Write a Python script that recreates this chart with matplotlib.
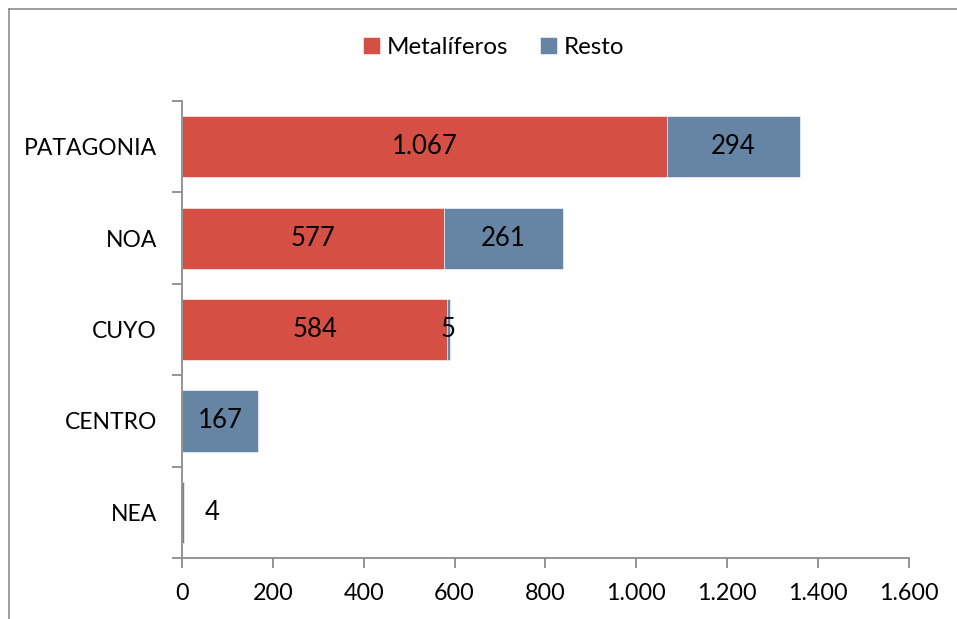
import matplotlib
matplotlib.use("Agg")
import matplotlib.pyplot as plt
from matplotlib.lines import Line2D
from matplotlib.ticker import FuncFormatter, MultipleLocator

plt.rcParams['font.family'] = ['Lato', 'DejaVu Sans']

regiones = ["PATAGONIA", "NOA", "CUYO", "CENTRO", "NEA"]
metaliferos = [1067, 577, 584, 0, 0]
resto = [294, 261, 5, 167, 4]

rojo = "#d64f44"
azul = "#6685a5"
gris = "#8c8c8c"


def miles(v, pos=None):
    return f"{int(v):,}".replace(",", ".")


fig = plt.figure(figsize=(9.57, 6.19), dpi=100)
ax = fig.add_axes([0.1902, 0.0985, 0.7596, 0.7383])

y = list(range(len(regiones)))[::-1]
h = 0.67
b1 = ax.barh(y, metaliferos, height=h, color=rojo, edgecolor="white", linewidth=0.4,
             label="Metalíferos")
b2 = ax.barh(y, resto, left=metaliferos, height=h, color=azul, edgecolor="white",
             linewidth=0.4, label="Resto")

# etiquetas de valor centradas en cada tramo
fs_val = 18.5
for rect, v in zip(b1, metaliferos):
    if v > 0:
        ax.text(rect.get_x() + rect.get_width() / 2, rect.get_y() + rect.get_height() / 2,
                miles(v), ha="center", va="center", fontsize=fs_val, color="black")
for rect, v, reg in zip(b2, resto, regiones):
    cx = rect.get_x() + rect.get_width() / 2
    cy = rect.get_y() + rect.get_height() / 2
    if reg == "NEA":
        ax.annotate(miles(v), (cx, cy), xytext=(21, 0), textcoords="offset points",
                    ha="center", va="center", fontsize=fs_val, color="black")
    else:
        ax.text(cx, cy, miles(v), ha="center", va="center", fontsize=fs_val, color="black")

ax.set_xlim(0, 1600)
ax.set_ylim(-0.5, len(regiones) - 0.5)
ax.xaxis.set_major_locator(MultipleLocator(200))
ax.xaxis.set_major_formatter(FuncFormatter(miles))

ax.set_yticks(y)
ax.set_yticklabels(regiones)
ax.set_yticks([i - 0.5 for i in range(len(regiones) + 1)], minor=True)
ax.tick_params(axis="y", which="major", length=0, pad=18, labelsize=16.5)
ax.tick_params(axis="y", which="minor", length=7, width=1.3, color=gris)
ax.tick_params(axis="x", length=7, width=1.3, color=gris, labelsize=16.8, pad=11)

for s in ("top", "right"):
    ax.spines[s].set_visible(False)
for s in ("left", "bottom"):
    ax.spines[s].set_color(gris)
    ax.spines[s].set_linewidth(1.3)

ax.legend(loc="upper center", bbox_to_anchor=(0.516, 0.975), bbox_transform=fig.transFigure,
          ncol=2, frameon=False, fontsize=17.4, handlelength=0.7, handleheight=0.7,
          handletextpad=0.3, columnspacing=1.3)

# borde del gráfico
fx, fy = 9 / 957, 1 - 9 / 619
fig.add_artist(Line2D([fx, fx], [0, fy], transform=fig.transFigure, color=gris, lw=1.2))
fig.add_artist(Line2D([fx, 1], [fy, fy], transform=fig.transFigure, color=gris, lw=1.2))

fig.savefig("out.png", dpi=100)
